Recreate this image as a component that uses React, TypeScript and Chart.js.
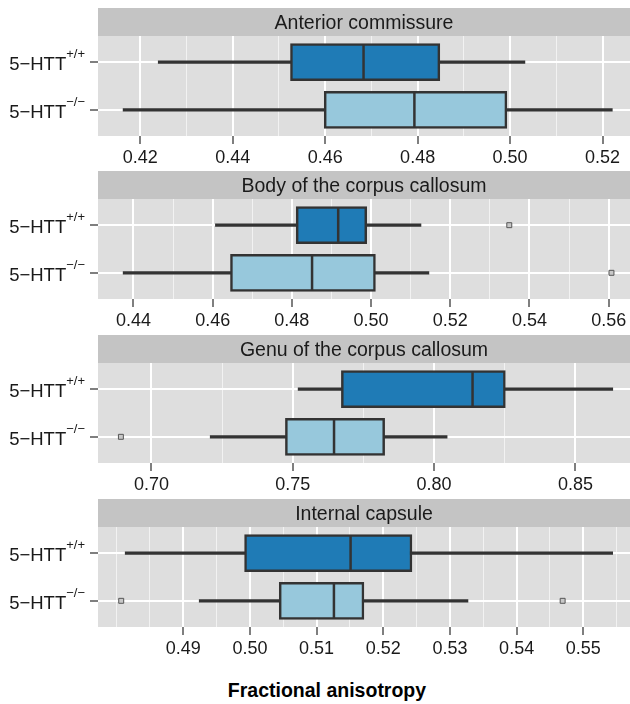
import React, { useEffect, useRef } from 'react';
import { Chart, registerables } from 'chart.js';

Chart.register(...registerables);

// ---- data ----
const groups = ['+/+', '\u2212/\u2212'];
const groupFills = ['#1F7BB6', '#97C8DC'];
const panelTitles = [
  'Anterior commissure',
  'Body of the corpus callosum',
  'Genu of the corpus callosum',
  'Internal capsule',
];

// [lower whisker, Q1, median, Q3, upper whisker]
const acWT = [0.4239, 0.4525, 0.4683, 0.4848, 0.5032];
const acKO = [0.4163, 0.4598, 0.4793, 0.4993, 0.5221];
const bccWT = [0.4607, 0.4811, 0.4917, 0.4989, 0.5126];
const bccKO = [0.4374, 0.4645, 0.4851, 0.5011, 0.5146];
const gccWT = [0.7519, 0.7672, 0.8136, 0.8252, 0.8632];
const gccKO = [0.7208, 0.7474, 0.7646, 0.7825, 0.8046];
const icWT = [0.4813, 0.4992, 0.5151, 0.5243, 0.5544];
const icKO = [0.4924, 0.5044, 0.5126, 0.5171, 0.5327];

const acOutWT: number[] = [];
const acOutKO: number[] = [];
const bccOutWT = [0.5349];
const bccOutKO = [0.5607];
const gccOutWT: number[] = [];
const gccOutKO = [0.6892];
const icOutWT: number[] = [];
const icOutKO = [0.4807, 0.5469];

const acRange = [0.41087, 0.52593];
const bccRange = [0.43105, 0.56538];
const gccRange = [0.6811, 0.8693];
const icRange = [0.47722, 0.557];

const acTicks = ['0.42', '0.44', '0.46', '0.48', '0.50', '0.52'];
const bccTicks = ['0.44', '0.46', '0.48', '0.50', '0.52', '0.54', '0.56'];
const gccTicks = ['0.70', '0.75', '0.80', '0.85'];
const icTicks = ['0.49', '0.50', '0.51', '0.52', '0.53', '0.54', '0.55'];

const acMinor = [0.43, 0.45, 0.47, 0.49, 0.51];
const bccMinor = [0.45, 0.47, 0.49, 0.51, 0.53, 0.55];
const gccMinor = [0.725, 0.775, 0.825];
const icMinor = [0.48, 0.485, 0.495, 0.505, 0.515, 0.525, 0.535, 0.545, 0.555];

const panels = [
  { title: panelTitles[0], wt: acWT, ko: acKO, outWT: acOutWT, outKO: acOutKO, range: acRange, ticks: acTicks, minor: acMinor },
  { title: panelTitles[1], wt: bccWT, ko: bccKO, outWT: bccOutWT, outKO: bccOutKO, range: bccRange, ticks: bccTicks, minor: bccMinor },
  { title: panelTitles[2], wt: gccWT, ko: gccKO, outWT: gccOutWT, outKO: gccOutKO, range: gccRange, ticks: gccTicks, minor: gccMinor },
  { title: panelTitles[3], wt: icWT, ko: icKO, outWT: icOutWT, outKO: icOutKO, range: icRange, ticks: icTicks, minor: icMinor },
];

// ---- layout / style ----
const W = 630;
const PANEL_H = 164;
const STRIP_H = 28;
const LEFT = 98;
const AXIS_H = 36;
const panelTops = [8, 171, 335, 499];
const FONT = '"Liberation Sans", Arial, Helvetica, sans-serif';
const LINE = '#333333';

const stripPlugin = {
  id: 'stripAndBg',
  beforeDraw(chart: any, _args: any, opts: any) {
    const { ctx, chartArea } = chart;
    ctx.save();
    ctx.fillStyle = '#DEDEDE';
    ctx.fillRect(chartArea.left, chartArea.top, chartArea.right - chartArea.left, chartArea.bottom - chartArea.top);
    ctx.fillStyle = '#C4C4C4';
    ctx.fillRect(chartArea.left, chartArea.top - STRIP_H, chartArea.right - chartArea.left, STRIP_H);
    ctx.fillStyle = '#1A1A1A';
    ctx.font = `19.5px ${FONT}`;
    ctx.textAlign = 'center';
    ctx.textBaseline = 'alphabetic';
    ctx.fillText(opts.title, (chartArea.left + chartArea.right) / 2, chartArea.top - STRIP_H / 2 + 7);
    ctx.restore();
  },
};

const yLabelPlugin = {
  id: 'yLabels',
  afterDraw(chart: any) {
    const { ctx, chartArea } = chart;
    const y = chart.scales.y;
    ctx.save();
    ctx.fillStyle = '#1A1A1A';
    ctx.textBaseline = 'alphabetic';
    groups.forEach((g, i) => {
      const py = y.getPixelForValue(i + 1);
      ctx.font = `13px ${FONT}`;
      const supW = ctx.measureText(g).width;
      const right = chartArea.left - 13;
      ctx.textAlign = 'left';
      ctx.fillText(g, right - supW, py - 4);
      ctx.font = `18.5px ${FONT}`;
      ctx.textAlign = 'right';
      ctx.fillText('5\u2212HTT', right - supW, py + 8);
    });
    ctx.restore();
  },
};

function buildConfig(p: any) {
  const majors = p.ticks.map(Number);
  const allTicks = [...majors, ...p.minor].sort((a: number, b: number) => a - b);
  const majorIndex = (v: number) => majors.findIndex((m: number) => Math.abs(m - v) < 1e-9);
  const stats = [p.wt, p.ko];
  const outliers = [
    ...p.outWT.map((v: number) => ({ x: v, y: 1 })),
    ...p.outKO.map((v: number) => ({ x: v, y: 2 })),
  ];
  return {
    type: 'bar',
    data: {
      datasets: [
        {
          type: 'bar',
          label: 'box',
          data: stats.map((s: number[], i: number) => ({ x: [s[1], s[3]], y: i + 1 })),
          backgroundColor: groupFills,
          borderColor: LINE,
          borderWidth: 2.5,
          borderSkipped: false,
          barThickness: 37,
          grouped: false,
          order: 2,
        },
        {
          type: 'bar',
          label: 'whisker',
          data: stats.map((s: number[], i: number) => ({ x: [s[0], s[4]], y: i + 1 })),
          backgroundColor: LINE,
          borderWidth: 0,
          barThickness: 2.5,
          grouped: false,
          order: 3,
        },
        {
          type: 'scatter',
          label: 'median',
          data: stats.map((s: number[], i: number) => ({ x: s[2], y: i + 1 })),
          pointStyle: 'line',
          pointRotation: 90,
          pointRadius: 17.5,
          pointBorderColor: LINE,
          pointBorderWidth: 2.5,
          order: 1,
        },
        {
          type: 'scatter',
          label: 'outliers',
          data: outliers,
          pointStyle: 'rect',
          pointRadius: 3.5,
          pointBorderColor: '#555555',
          pointBackgroundColor: '#C8C8C8',
          pointBorderWidth: 1,
          order: 0,
        },
      ],
    },
    options: {
      indexAxis: 'y',
      responsive: false,
      animation: false,
      devicePixelRatio: 1,
      layout: { autoPadding: false, padding: { top: STRIP_H, left: 0, right: 0, bottom: 0 } },
      plugins: {
        legend: { display: false },
        tooltip: { enabled: false },
        stripAndBg: { title: p.title },
      },
      scales: {
        x: {
          type: 'linear',
          min: p.range[0],
          max: p.range[1],
          offset: false,
          afterBuildTicks: (s: any) => {
            s.ticks = allTicks.map((v: number) => ({ value: v }));
          },
          afterFit: (s: any) => {
            s.height = AXIS_H;
            s.paddingLeft = 0;
            s.paddingRight = 0;
          },
          border: { display: false },
          grid: {
            offset: false,
            color: (c: any) => (c.tick && majorIndex(c.tick.value) >= 0 ? '#FFFFFF' : '#F2F2F2'),
            lineWidth: (c: any) => (c.tick && majorIndex(c.tick.value) >= 0 ? 2 : 1),
            tickColor: (c: any) => (c.tick && majorIndex(c.tick.value) >= 0 ? '#7F7F7F' : 'rgba(0,0,0,0)'),
            tickLength: 8,
            tickWidth: 2,
          },
          ticks: {
            autoSkip: false,
            maxRotation: 0,
            padding: 3,
            color: '#1A1A1A',
            font: { family: FONT, size: 18 },
            callback: (v: number) => {
              const k = majorIndex(v);
              return k >= 0 ? p.ticks[k] : '';
            },
          },
        },
        y: {
          type: 'linear',
          min: 0.45,
          max: 2.55,
          reverse: true,
          offset: false,
          afterBuildTicks: (s: any) => {
            s.ticks = groups.map((_g, i) => ({ value: i + 1 }));
          },
          afterFit: (s: any) => {
            s.width = LEFT;
            s.paddingTop = 0;
            s.paddingBottom = 0;
          },
          border: { display: false },
          grid: {
            offset: false,
            color: '#FFFFFF',
            lineWidth: 2,
            tickColor: '#7F7F7F',
            tickLength: 8,
            tickWidth: 2,
          },
          ticks: { display: false },
        },
      },
    },
    plugins: [stripPlugin, yLabelPlugin],
  };
}

function Panel({ p, top }: { p: any; top: number }) {
  const ref = useRef<HTMLCanvasElement>(null);
  useEffect(() => {
    if (!ref.current) return;
    const chart = new Chart(ref.current, buildConfig(p) as any);
    return () => chart.destroy();
  }, [p]);
  return (
    <canvas
      ref={ref}
      width={W}
      height={PANEL_H}
      style={{ position: 'absolute', left: 0, top, width: W, height: PANEL_H }}
    />
  );
}

export default function App() {
  return (
    <div style={{ position: 'absolute', left: 0, top: 0, width: W, height: 704, background: '#FFFFFF', overflow: 'hidden' }}>
      {panels.map((p, i) => (
        <Panel key={i} p={p} top={panelTops[i]} />
      ))}
      <div
        style={{
          position: 'absolute',
          left: 12,
          top: 679,
          width: W,
          textAlign: 'center',
          fontFamily: FONT,
          fontWeight: 'bold',
          fontSize: 19.5,
          color: '#000000',
          lineHeight: '22px',
        }}
      >
        Fractional anisotropy
      </div>
    </div>
  );
}
